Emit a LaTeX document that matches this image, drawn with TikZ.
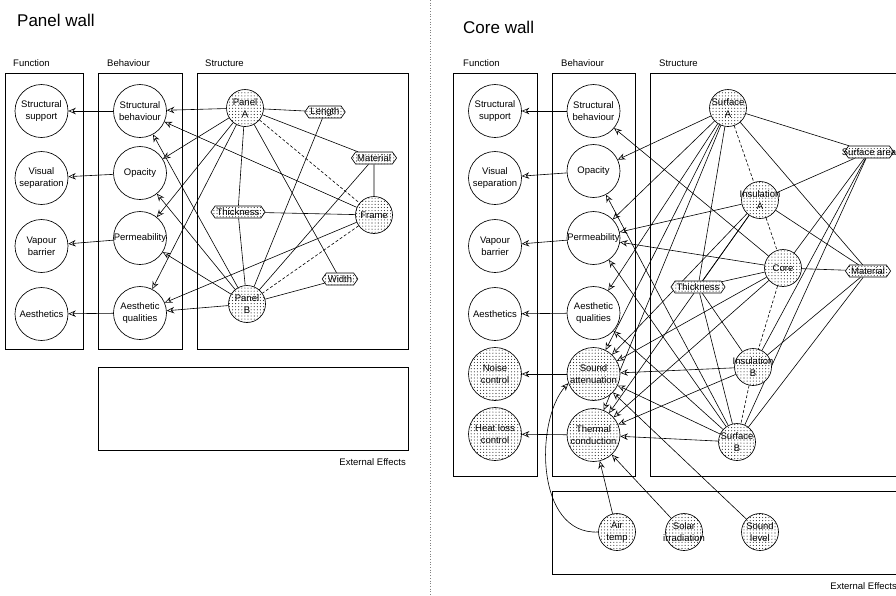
\documentclass[tikz,border=0pt]{standalone}
\usepackage{fontspec}
\setmainfont{Liberation Sans}
\usetikzlibrary{shapes.symbols, patterns.meta, arrows.meta, backgrounds}

\newcommand{\nb}[1]{\makebox[20pt]{#1}}

\tikzset{
  base/.style={draw, line width=0.65pt, align=center, inner sep=0pt,
               font=\fontsize{9.5}{12}\selectfont},
  dotfill/.style={fill=white, postaction={pattern={Dots[distance=3.1pt, radius=0.55pt]}, pattern color=black!85}},
  plain/.style={base, circle, minimum size=53pt, fill=white},
  stipbig/.style={base, circle, minimum size=53pt, dotfill},
  stip/.style={base, circle, minimum size=37pt, dotfill},
  hexa/.style={base, signal, signal to=east and west, signal pointer angle=110,
               minimum height=12pt, inner xsep=1.5pt, inner ysep=1pt, dotfill},
  frame/.style={draw, line width=0.65pt},
  lab/.style={font=\fontsize{9.5}{11}\selectfont, inner sep=0pt},
  title/.style={font=\fontsize{17}{20}\selectfont, anchor=west, inner sep=0pt},
  ln/.style={line width=0.6pt},
  dsh/.style={line width=0.6pt, dash pattern=on 3pt off 2pt},
  arr/.style={line width=0.6pt, -{Stealth[open, length=7.5pt, width=6.5pt, inset=2.5pt]}}
}

\begin{document}
\begin{tikzpicture}[x=1pt, y=-1pt]
\useasboundingbox (0,0) rectangle (896,595);

% divider between the two walls
\draw[gray, dotted, line width=0.7pt] (430,0) -- (430,595);

% ---------------- Panel wall ----------------
\node[title] (t1) at (17,20) {Panel wall};
\node[lab, anchor=west] (hf1) at (13,63) {Function};
\node[lab, anchor=west] (hb1) at (107,63) {Behaviour};
\node[lab, anchor=west] (hs1) at (205,63) {Structure};
\draw[frame] (5,73) rectangle (83,349);
\draw[frame] (98,73) rectangle (182,349);
\draw[frame] (197,73) rectangle (408,349);
\draw[frame] (98,367) rectangle (408,450);
\node[lab, anchor=east] (he1) at (406,462) {External Effects};

\node[plain] (lf1) at (41.5,111) {Structural\\support};
\node[plain] (lf2) at (41.5,178) {Visual\\separation};
\node[plain] (lf3) at (41.5,246) {Vapour\\barrier};
\node[plain] (lf4) at (41.5,314) {Aesthetics};

\node[plain] (lb1) at (140,111) {Structural\\behaviour};
\node[plain] (lb2) at (140,173) {Opacity};
\node[plain] (lb3) at (140,238) {\makebox[40pt]{Permeability}};
\node[plain] (lb4) at (140,313) {Aesthetic\\qualities};

\node[stip] (pA) at (245,108) {Panel\\A};
\node[stip] (fr) at (374,215) {Frame};
\node[stip] (pB) at (247,304) {Panel\\B};
\node[hexa] (len) at (325,112) {Length};
\node[hexa] (mat) at (374,158) {Material};
\node[hexa] (thk) at (238,212) {Thickness};
\node[hexa] (wid) at (340,279) {Width};

% ---------------- Core wall ----------------
\node[title] (t2) at (463,27) {Core wall};
\node[lab, anchor=west] (hf2) at (463,63) {Function};
\node[lab, anchor=west] (hb2) at (561,63) {Behaviour};
\node[lab, anchor=west] (hs2) at (659,63) {Structure};
\draw[frame] (453,73) rectangle (537,476);
\draw[frame] (552,73) rectangle (635,476);
\draw[frame] (650,73) -- (650,476) -- (905,476);
\draw[frame] (650,73) -- (905,73);
\draw[frame] (905,491) -- (552,491) -- (552,574) -- (905,574);
\node[lab, anchor=east] (he2) at (897,586) {External Effects};

\node[plain] (rf1) at (495,111) {Structural\\support};
\node[plain] (rf2) at (495,178) {Visual\\separation};
\node[plain] (rf3) at (495,246) {Vapour\\barrier};
\node[plain] (rf4) at (495,314) {Aesthetics};
\node[stipbig] (rf5) at (495,374) {Noise\\control};
\node[stipbig] (rf6) at (495,434) {Heat loss\\control};

\node[plain] (rb1) at (593.5,111) {Structural\\behaviour};
\node[plain] (rb2) at (593.5,171) {Opacity};
\node[plain] (rb3) at (593.5,238) {\makebox[40pt]{Permeability}};
\node[plain] (rb4) at (593.5,313) {Aesthetic\\qualities};
\node[stipbig] (rb5) at (593.5,374) {Sound\\\makebox[40pt]{attenuation}};
\node[stipbig] (rb6) at (593.5,435) {Thermal\\\makebox[40pt]{conduction}};

\node[stip] (sA) at (728,108) {\nb{Surface}\\A};
\node[stip] (iA) at (760,200) {\nb{Insulation}\\A};
\node[stip] (core) at (783,268) {Core};
\node[stip] (iB) at (753,367) {\nb{Insulation}\\B};
\node[stip] (sB) at (737,442) {\nb{Surface}\\B};
\node[hexa] (sar) at (869,152) {\makebox[38pt]{Surface area}};
\node[hexa] (mtr) at (868,271) {Material};
\node[hexa] (thk2) at (698,287) {Thickness};

\node[stip] (air) at (617,532) {Air\\temp};
\node[stip] (sol) at (684,532) {Solar\\\nb{irradiation}};
\node[stip] (snd) at (760,532) {Sound\\level};

% ---------------- connectors ----------------
\begin{scope}[on background layer]
  % panel wall: behaviour to function
  \foreach \b/\f in {lb1/lf1, lb2/lf2, lb3/lf3, lb4/lf4}
    \draw[arr] (\b) -- (\f);
  % panel wall: structure to behaviour
  \foreach \s/\b in {pA/lb1, fr/lb1, pB/lb1, pA/lb2, pB/lb2, pA/lb3, pB/lb3,
                     pA/lb4, fr/lb4, pB/lb4}
    \draw[arr] (\s) -- (\b);
  % panel wall: structure relations
  \foreach \a/\c in {pA/len, pA/mat, pA/thk, pA/wid, mat/fr, thk/fr,
                     thk/pB, len/pB, mat/pB, wid/pB}
    \draw[ln] (\a) -- (\c);
  \draw[dsh] (pA) -- (fr);
  \draw[dsh] (fr) -- (pB);

  % core wall: behaviour to function
  \foreach \b/\f in {rb1/rf1, rb2/rf2, rb3/rf3, rb4/rf4, rb5/rf5, rb6/rf6}
    \draw[arr] (\b) -- (\f);
  % core wall: structure to behaviour
  \foreach \s/\b in {sA/rb2, sA/rb3, sA/rb4, sA/rb5, sA/rb6,
                     iA/rb3, iA/rb5, iA/rb6,
                     core/rb1, core/rb3, core/rb5, core/rb6,
                     iB/rb5, iB/rb6,
                     sB/rb2, sB/rb3, sB/rb4, sB/rb5, sB/rb6}
    \draw[arr] (\s) -- (\b);
  % core wall: layers and their properties
  \foreach \a/\c in {sA/sar, iA/sar, core/sar, iB/sar, sB/sar,
                     sA/mtr, iA/mtr, core/mtr, iB/mtr, sB/mtr,
                     sA/thk2, iA/thk2, core/thk2, iB/thk2, sB/thk2}
    \draw[ln] (\a) -- (\c);
  \foreach \a/\c in {sA/iA, iA/core, core/iB, iB/sB}
    \draw[dsh] (\a) -- (\c);
  % core wall: external effects
  \draw[arr] (air) -- (rb6);
  \draw[arr] (sol) -- (rb6);
  \draw[arr] (snd) -- (rb5);
  \draw[arr] (air.west) .. controls (535,535) and (535,420) .. (rb5.200);
\end{scope}
\end{tikzpicture}
\end{document}
